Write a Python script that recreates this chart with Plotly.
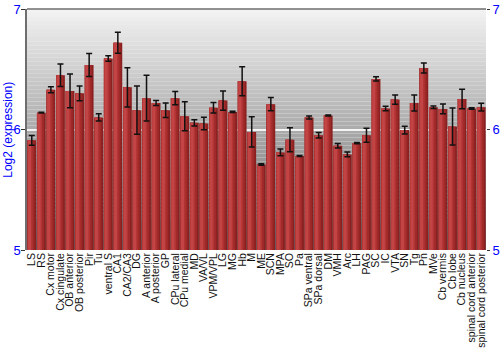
import plotly.graph_objects as go

categories = ["LS", "RS", "Cx motor", "Cx cingulate", "OB anterior", "OB posterior", "Pir", "Tu",
              "ventral S", "CA1", "CA2/CA3", "DG", "A anterior", "A posterior", "GP", "CPu lateral",
              "CPu medial", "MD", "VA/VL", "VPM/VPL", "LG", "MG", "Hb", "M", "ME", "SCN", "MPA", "SO",
              "Pa", "SPa ventral", "SPa dorsal", "DM", "VMH", "Arc", "LH", "PAG", "SC", "IC", "VTA",
              "SN", "Tg", "Pn", "MVe", "Cb vermis", "Cb lobe", "Cb nucleus", "spinal cord anterior",
              "spinal cord posterior"]
values = [5.91, 6.14, 6.33, 6.45, 6.32, 6.30, 6.535, 6.10,
          6.59, 6.72, 6.35, 6.16, 6.26, 6.22, 6.16, 6.26,
          6.11, 6.055, 6.05, 6.18, 6.24, 6.146, 6.40, 5.98, 5.71, 6.21, 5.81, 5.915,
          5.78, 6.10, 5.953, 6.116, 5.865, 5.793, 5.887, 5.953, 6.42, 6.174, 6.248,
          5.995, 6.22, 6.51, 6.185, 6.171, 6.025, 6.253, 6.174, 6.185]
errors = [0.04, 0.004, 0.025, 0.094, 0.14, 0.062, 0.095, 0.03,
          0.023, 0.087, 0.163, 0.2, 0.19, 0.02, 0.06, 0.055,
          0.12, 0.026, 0.052, 0.044, 0.08, 0.005, 0.12, 0.125, 0.006, 0.055, 0.028, 0.1,
          0.004, 0.012, 0.023, 0.005, 0.018, 0.02, 0.005, 0.058, 0.018, 0.018, 0.038,
          0.033, 0.066, 0.041, 0.011, 0.041, 0.153, 0.08, 0.006, 0.032]
yticks = [5, 6, 7]
y_title = "Log2 (expression)"

x = list(range(len(categories)))
fig = go.Figure()

layers = [(-0.46, 0.92, "#8a2020"), (-0.46, 0.74, "#a02a2a"), (-0.46, 0.54, "#b23434"),
          (-0.40, 0.32, "#c24444")]
for off, w, c in layers:
    fig.add_trace(go.Bar(x=x, y=values, offset=off, width=w, marker=dict(color=c, line=dict(width=0)),
                         showlegend=False, hoverinfo="skip"))
fig.add_trace(go.Bar(x=x, y=values, offset=-0.46, width=0.92,
                     marker=dict(color="rgba(0,0,0,0)", line=dict(width=0)),
                     error_y=dict(type="data", array=errors, color="#111", thickness=1.5, width=3),
                     showlegend=False))
# invisible trace on right axis
fig.add_trace(go.Scatter(x=[0], y=[6], yaxis="y2", mode="markers", marker=dict(opacity=0),
                         showlegend=False, hoverinfo="skip"))

# gradient background
n = 60
top = (242, 242, 242)
bot = (100, 100, 100)
shapes = []
for i in range(n):
    t = i / (n - 1)
    col = tuple(int(round(top[k] + (bot[k] - top[k]) * t)) for k in range(3))
    shapes.append(dict(type="rect", xref="paper", yref="paper", x0=0, x1=1,
                       y1=1 - i / n, y0=1 - (i + 1) / n, layer="below", line=dict(width=0),
                       fillcolor="rgb(%d,%d,%d)" % col))
shapes.append(dict(type="line", xref="paper", yref="paper", x0=0, x1=1, y0=1, y1=1,
                   line=dict(color="#6e6e6e", width=1.5)))

fig.update_layout(
    width=500, height=350,
    margin=dict(l=27, r=14, t=9, b=100),
    paper_bgcolor="white", plot_bgcolor="rgba(0,0,0,0)",
    barmode="overlay",
    shapes=shapes,
    font=dict(family="Liberation Sans, Arial, sans-serif"),
    annotations=[dict(text=y_title, xref="paper", yref="paper", x=-0.043, y=0.5,
                      xanchor="center", yanchor="middle", textangle=-90, showarrow=False,
                      font=dict(size=12, color="#0000ff"))],
    xaxis=dict(range=[-0.5, len(categories) - 0.5], tickvals=x, ticktext=categories,
               tickangle=-90, tickfont=dict(size=10.5, color="#111"), showgrid=False,
               zeroline=False, ticks="", ticklen=0, automargin=False),
    yaxis=dict(range=[5, 7], tickvals=yticks, tickfont=dict(size=13, color="#0000ff"),
               showline=True, linecolor="#6e6e6e", linewidth=1.5, ticks="outside", ticklen=4,
               tickcolor="#333", showgrid=True, gridcolor="rgba(255,255,255,0.85)", gridwidth=1.5,
               zeroline=False, automargin=False, ticklabelstandoff=-2),
    yaxis2=dict(range=[5, 7], tickvals=yticks, overlaying="y", side="right",
                tickfont=dict(size=13, color="#0000ff"), ticks="outside", ticklen=3,
                tickcolor="#333", showgrid=False, zeroline=False, showline=False, automargin=False),
)
fig.write_html("out.html")
